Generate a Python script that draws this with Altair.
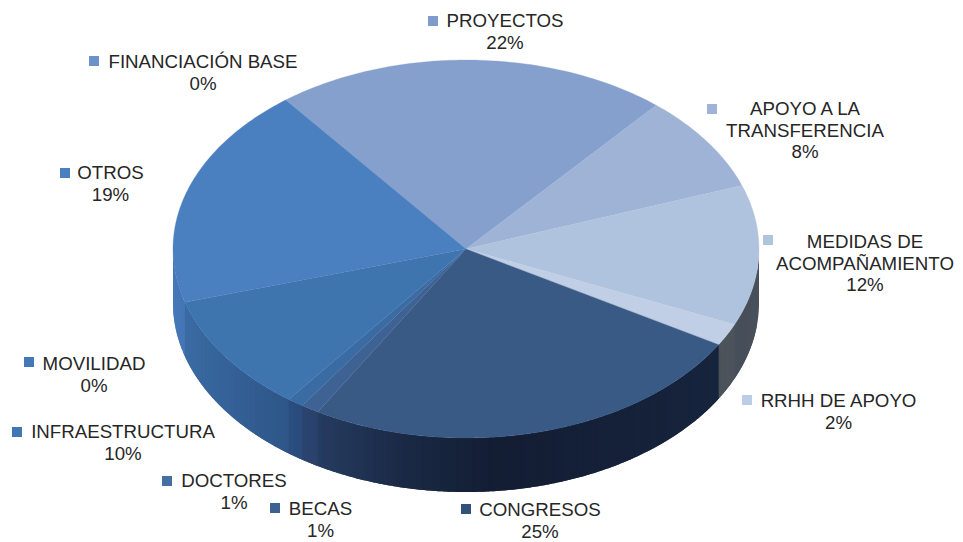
import math
import altair as alt
import numpy as np
import pandas as pd

names = ["PROYECTOS", "APOYO A LA\nTRANSFERENCIA", "MEDIDAS DE\nACOMPAÑAMIENTO", "RRHH DE APOYO",
         "CONGRESOS", "BECAS", "DOCTORES", "INFRAESTRUCTURA", "MOVILIDAD", "OTROS", "FINANCIACIÓN BASE"]
values = [21.8, 8.3, 12.0, 1.9, 25.0, 1.0, 0.9, 10.1, 0.0, 19.0, 0.0]
top_colors = ["#86a0cd", "#9fb3d7", "#b0c3de", "#c0cfe5", "#395a85", "#3e6294", "#3b6ba3", "#3f75ae",
              "#4479b7", "#4a7fc0", "#6c91cb"]
key_colors = ["#7f9bcb", "#9fb3d8", "#b1c3e0", "#bccde5", "#325278", "#3d6191", "#446ea4", "#3f77b2",
              "#4479b7", "#4a7fc0", "#6c91cb"]

# label layout (page pixels, first line of each label)
label_x = [505, 805, 865, 838.5, 540, 320.5, 234, 123, 94, 110.5, 203]
label_y = [21, 109, 242, 401, 510, 509, 481, 432, 364, 173, 62]
key_x = [433, 712, 768, 747, 466, 275, 167, 17, 29, 65, 94]
key_y = [21, 109, 240, 400, 509, 508, 481, 432, 362, 173, 61]

MARGIN = 8
CX, CY, RX, RY, DEPTH = 466, 249, 293, 189, 54
START = -38.0
W, H = 947, 534


def pt(angle, dy=0.0):
    a = math.radians(angle)
    return [CX + RX * math.sin(a) - MARGIN, CY - RY * math.cos(a) + dy - MARGIN]


def arc_angles(a0, a1, step=1.0):
    n = max(1, int(math.ceil((a1 - a0) / step)))
    return [a0 + (a1 - a0) * i / n for i in range(n + 1)]


def darken(hex_color, f):
    c = [int(hex_color[i:i + 2], 16) for i in (1, 3, 5)]
    blue_gain = 1 + 0.25 * (1 - f) if c[0] < 0x80 else 1.0
    rgb = [c[0] * f, c[1] * f, c[2] * f * blue_gain]
    return "#%02x%02x%02x" % tuple(int(round(min(255, v))) for v in rgb)


def shade(u):
    return float(np.interp(u, [-1, -0.9, -0.6, -0.2, 0.1, 1], [0.95, 0.88, 0.73, 0.45, 0.33, 0.41]))


def feature(ring, color):
    return {"type": "Feature", "geometry": {"type": "Polygon", "coordinates": [ring + [ring[0]]]},
            "properties": {"c": color}}


top_features, side_features = [], []
cum = START
for v, col in zip(values, top_colors):
    a0, a1 = cum, cum + v * 3.6
    cum = a1
    if v <= 0:
        continue
    top_features.append(feature([[CX - MARGIN, CY - MARGIN]] + [pt(a) for a in arc_angles(a0, a1)], col))
    lo, hi = max(a0, 90.0), min(a1, 270.0)
    if hi > lo:
        # strips 2px wide on screen, each one running slightly under the next
        u_lo, u_hi = math.sin(math.radians(lo)), math.sin(math.radians(hi))
        n = max(1, int(abs(u_hi - u_lo) * RX / 2))
        bounds = [180 - math.degrees(math.asin(u_lo + (u_hi - u_lo) * i / n)) for i in range(n + 1)]
        bounds[0], bounds[-1] = lo, hi
        for i in range(n):
            s = bounds[i]
            e = bounds[i + 2] if i + 2 <= n else min(hi + 1.0, 270.0)
            angs = arc_angles(s, e, 0.5)
            u = (math.sin(math.radians(bounds[i])) + math.sin(math.radians(bounds[i + 1]))) / 2
            ring = [pt(a) for a in angs] + [pt(a, DEPTH) for a in reversed(angs)]
            side_features.append(feature(ring, darken(col, shade(u))))

side = alt.Chart(alt.Data(values=side_features)).mark_geoshape(strokeWidth=0).encode(
    fill=alt.Color("properties.c:N", scale=None),
).project(type="identity", scale=1, translate=[0, 0])
top = alt.Chart(alt.Data(values=top_features)).mark_geoshape(strokeWidth=0.3).encode(
    fill=alt.Color("properties.c:N", scale=None),
    stroke=alt.Color("properties.c:N", scale=None),
).project(type="identity", scale=1, translate=[0, 0])

labels = pd.DataFrame({
    "text": [f"{n}\n{round(v)}%" for n, v in zip(names, values)],
    "x": [x - MARGIN for x in label_x],
    "y": [y - MARGIN for y in label_y],
    "kx": [x - MARGIN for x in key_x],
    "ky": [y - MARGIN for y in key_y],
    "key": key_colors,
})

keys = alt.Chart(labels).mark_square(size=100, opacity=1).encode(
    x=alt.X("kx:Q", scale=None), y=alt.Y("ky:Q", scale=None), color=alt.Color("key:N", scale=None))
text = alt.Chart(labels).mark_text(font="Liberation Sans", fontSize=18.7, color="#262626",
                                   lineBreak="\n", lineHeight=21.5, align="center", baseline="middle").encode(
    x=alt.X("x:Q", scale=None), y=alt.Y("y:Q", scale=None), text="text:N")

chart = alt.layer(side, top, keys, text).properties(
    width=W, height=H, padding=0, autosize="none"
).configure_view(stroke=None)

chart.save("out.html", embed_options={"renderer": "svg", "actions": False})
